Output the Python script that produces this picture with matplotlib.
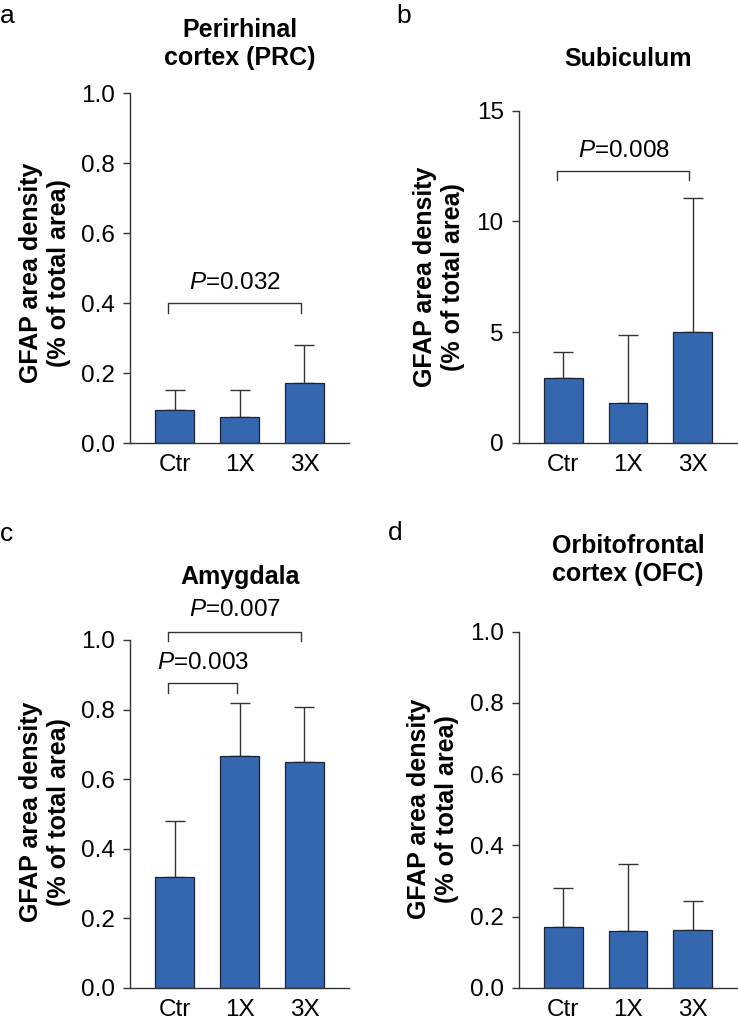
import matplotlib
matplotlib.use("Agg")
import matplotlib.pyplot as plt
import numpy as np

plt.rcParams['font.family'] = ['Liberation Sans', 'DejaVu Sans']
plt.rcParams['mathtext.fontset'] = 'custom'
plt.rcParams['mathtext.rm'] = 'Liberation Sans'
plt.rcParams['mathtext.it'] = 'Liberation Sans:italic'

groups = ["Ctr", "1X", "3X"]

prc_mean = [0.094, 0.073, 0.172]
prc_err = [0.057, 0.078, 0.108]
sub_mean = [2.94, 1.81, 5.02]
sub_err = [1.14, 3.06, 6.02]
amy_mean = [0.318, 0.667, 0.649]
amy_err = [0.162, 0.153, 0.159]
ofc_mean = [0.170, 0.160, 0.163]
ofc_err = [0.111, 0.187, 0.081]

prc_ticks = [0.0, 0.2, 0.4, 0.6, 0.8, 1.0]
sub_ticks = [0, 5, 10, 15]

W, H = 738, 1023
fig = plt.figure(figsize=(W / 100, H / 100), dpi=100)

BAR = "#3567B0"
EDGE = "#1c2433"
LINE = "#333333"


def px_axes(left, right, top, bottom):
    return fig.add_axes([left / W, 1 - bottom / H, (right - left) / W, (bottom - top) / H])


def draw(ax, means, errs, ylim, ticks, ticklabels):
    x = np.arange(len(groups))
    ax.bar(x, means, width=0.6, color=BAR, edgecolor=EDGE, linewidth=0.9, zorder=2)
    ax.errorbar(x, means, yerr=[np.zeros(len(errs)), errs], fmt='none', ecolor=LINE,
                elinewidth=1.0, capsize=7, capthick=1.0, zorder=1)
    ax.set_xlim(-0.685, 2.685)
    ax.set_ylim(*ylim)
    ax.set_xticks(x)
    ax.set_xticklabels(groups, fontsize=17.5)
    ax.set_yticks(ticks)
    ax.set_yticklabels(ticklabels, fontsize=17.5)
    ax.tick_params(axis='x', length=0, pad=8)
    ax.tick_params(axis='y', length=5, width=1.0, pad=6, color=LINE)
    for s in ['top', 'right']:
        ax.spines[s].set_visible(False)
    for s in ['left', 'bottom']:
        ax.spines[s].set_linewidth(1.0)
        ax.spines[s].set_color(LINE)


def bracket(ax, x0, x1, y, drop, label, tx, ty):
    ax.plot([x0, x0, x1, x1], [y - drop, y, y, y - drop], color=LINE, lw=1.0, clip_on=False)
    ax.text(tx, ty, label, ha='center', va='center', fontsize=17.5)


fmt1 = ["0.0", "0.2", "0.4", "0.6", "0.8", "1.0"]

# a
axa = px_axes(130, 349, 93, 443)
draw(axa, prc_mean, prc_err, (0, 1), prc_ticks, fmt1)
bracket(axa, -0.1, 1.95, 0.399, 0.028, r"$P$=0.032", 0.93, 0.457)

# b
axb = px_axes(519, 737, 110.7, 442.7)
draw(axb, sub_mean, sub_err, (0, 15), sub_ticks, [str(t) for t in sub_ticks])
bracket(axb, -0.09, 1.95, 12.28, 0.42, r"$P$=0.008", 0.93, 13.2)

# c
axc = px_axes(130, 349, 640, 987.7)
draw(axc, amy_mean, amy_err, (0, 1), prc_ticks, fmt1)
bracket(axc, -0.1, 1.95, 1.024, 0.026, r"$P$=0.007", 0.93, 1.086)
bracket(axc, -0.1, 0.96, 0.875, 0.028, r"$P$=0.003", 0.43, 0.933)

# d
axd = px_axes(519, 737, 631.7, 987.7)
draw(axd, ofc_mean, ofc_err, (0, 1), prc_ticks, fmt1)

# titles
def ftext(x, y, s, **kw):
    fig.text(x / W, 1 - y / H, s, **kw)

tkw = dict(ha='center', va='center', fontsize=18, fontweight='bold', linespacing=1.25)
ftext(240, 44, "Perirhinal\ncortex (PRC)", **tkw)
ftext(628, 59, "Subiculum", **tkw)
ftext(240, 577, "Amygdala", **tkw)
ftext(628, 560, "Orbitofrontal\ncortex (OFC)", **tkw)

ykw = dict(ha='center', va='center', fontsize=18, fontweight='bold', rotation=90,
           linespacing=1.25, multialignment='center')
ylab = "GFAP area density\n(% of total area)"
ftext(45, 273, ylab, **ykw)
ftext(439, 277, ylab, **ykw)
ftext(45, 812, ylab, **ykw)
ftext(433, 809, ylab, **ykw)

lkw = dict(ha='left', va='center', fontsize=19)
ftext(0, 16, "a", **lkw)
ftext(396, 16, "b", **lkw)
ftext(0, 534, "c", **lkw)
ftext(388, 533, "d", **lkw)

fig.savefig("out.png", dpi=100)
